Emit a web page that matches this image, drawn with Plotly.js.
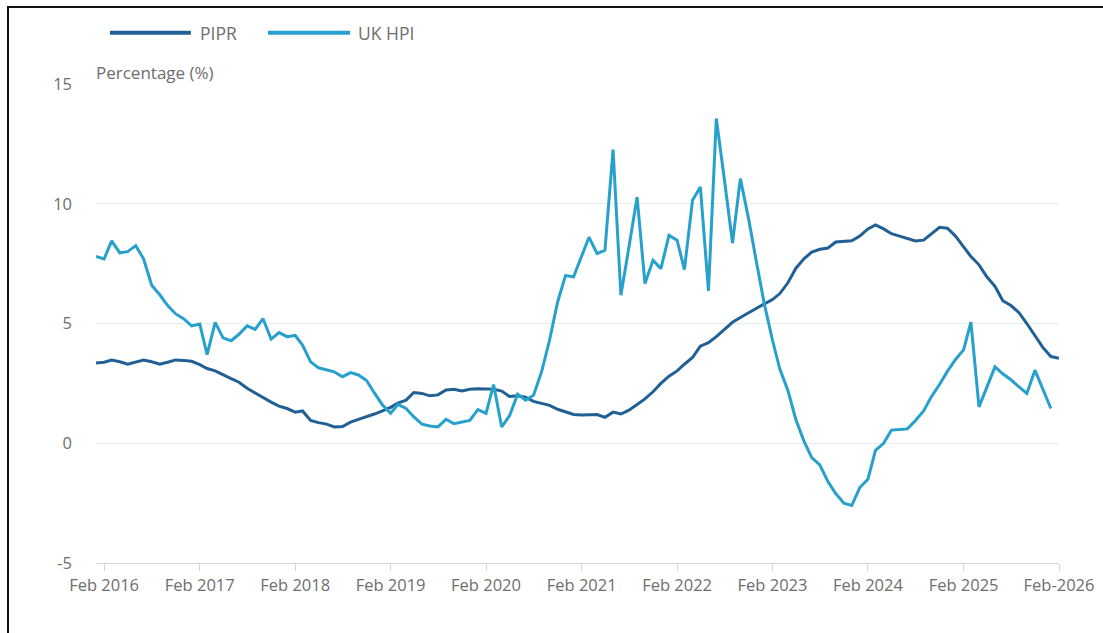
<!DOCTYPE html>
<html>
<head>
<meta charset="utf-8">
<script src="https://cdn.plot.ly/plotly-3.0.1.min.js"></script>
<style>
  html, body { margin: 0; padding: 0; background: #fff; }
  #wrap { position: relative; width: 1103px; height: 633px; overflow: hidden; }
  #chart { width: 1103px; height: 633px; }
  #frame { position: absolute; left: 7px; top: 6px; width: 1200px; height: 700px;
           border-top: 2px solid #111; border-left: 2px solid #111; pointer-events: none; }
</style>
</head>
<body>
<div id="wrap">
  <div id="chart"></div>
  <div id="frame"></div>
</div>
<script>
// Annual growth rates (%), monthly from January 2016
const startYear = 2016;
const startMonth = 1;

const pipr = [
  3.35, 3.38, 3.47, 3.40, 3.30, 3.38, 3.47, 3.40, 3.30, 3.38, 3.48, 3.46,
  3.42, 3.28, 3.12, 3.02, 2.85, 2.70, 2.55, 2.30, 2.10, 1.90, 1.72, 1.55,
  1.45, 1.30, 1.35, 0.95, 0.86, 0.80, 0.68, 0.70, 0.88, 1.00, 1.10, 1.22,
  1.35, 1.50, 1.68, 1.80, 2.12, 2.08, 1.98, 2.02, 2.22, 2.25, 2.18, 2.25,
  2.28, 2.28, 2.26, 2.18, 1.95, 1.98, 1.92, 1.75, 1.65, 1.58, 1.42, 1.30,
  1.20, 1.18, 1.18, 1.20, 1.08, 1.30, 1.22, 1.38, 1.62, 1.85, 2.15, 2.50,
  2.80, 3.02, 3.30, 3.58, 4.05, 4.20, 4.45, 4.75, 5.05, 5.25, 5.45, 5.65,
  5.82, 6.00, 6.25, 6.70, 7.30, 7.70, 7.98, 8.10, 8.15, 8.40, 8.42, 8.45,
  8.65, 8.95, 9.12, 8.95, 8.75, 8.65, 8.55, 8.45, 8.48, 8.75, 9.02, 8.98,
  8.65, 8.20, 7.80, 7.45, 6.95, 6.55, 5.95, 5.75, 5.45, 5.00, 4.50, 4.00,
  3.62, 3.55
];

const ukHpi = [
  7.80, 7.70, 8.45, 7.95, 8.00, 8.25, 7.70, 6.60, 6.20, 5.75, 5.40, 5.20,
  4.90, 4.98, 3.70, 5.05, 4.40, 4.28, 4.55, 4.90, 4.75, 5.20, 4.35, 4.62,
  4.45, 4.50, 4.10, 3.40, 3.15, 3.05, 2.98, 2.78, 2.95, 2.85, 2.62, 2.10,
  1.60, 1.25, 1.62, 1.45, 1.10, 0.80, 0.72, 0.68, 1.00, 0.82, 0.90, 0.95,
  1.40, 1.25, 2.45, 0.68, 1.15, 2.05, 1.80, 2.00, 3.00, 4.30, 5.90, 7.00,
  6.95, 7.80, 8.60, 7.92, 8.06, 12.26, 6.18, 8.20, 10.28, 6.67, 7.64, 7.29,
  8.68, 8.48, 7.25, 10.15, 10.70, 6.36, 13.56, 11.00, 8.36, 11.05, 9.40, 7.60,
  5.80, 4.30, 3.10, 2.20, 1.00, 0.10, -0.60, -0.90, -1.60, -2.10, -2.50, -2.60,
  -1.85, -1.50, -0.30, 0.00, 0.55, 0.57, 0.60, 0.95, 1.35, 1.95, 2.45, 3.00,
  3.50, 3.90, 5.06, 1.52, 2.35, 3.19, 2.90, 2.65, 2.35, 2.08, 3.05, 2.25,
  1.45
];

const tickDates = [
  '2016-02-01', '2017-02-01', '2018-02-01', '2019-02-01', '2020-02-01', '2021-02-01',
  '2022-02-01', '2023-02-01', '2024-02-01', '2025-02-01', '2026-02-01'
];
const tickLabels = [
  'Feb 2016', 'Feb 2017', 'Feb 2018', 'Feb 2019', 'Feb 2020', 'Feb 2021',
  'Feb 2022', 'Feb 2023', 'Feb 2024', 'Feb 2025', 'Feb-2026'
];
const yTickVals = [-5, 0, 5, 10, 15];
const yTickLabels = ['-5', '0', '5', '10', '15'];

const seriesNames = ['PIPR', 'UK HPI'];
const seriesColors = ['#206095', '#27a0cc'];

function monthDates(n) {
  const out = [];
  for (let i = 0; i < n; i++) {
    const k = startMonth - 1 + i;
    const y = startYear + Math.floor(k / 12);
    const m = (k % 12) + 1;
    out.push(y + '-' + String(m).padStart(2, '0') + '-01');
  }
  return out;
}

const font = 'Open Sans, Noto Sans, sans-serif';
const textGrey = '#6e6e6e';

const traces = [pipr, ukHpi].map((vals, i) => ({
  type: 'scatter',
  mode: 'lines',
  name: seriesNames[i],
  x: monthDates(vals.length),
  y: vals,
  line: { color: seriesColors[i], width: 3 },
  showlegend: false,
  hoverinfo: 'x+y+name'
}));

// Hand-drawn legend: long swatch lines above the plot
const legendY = 1.107;
const legendItems = [
  { x0: 0.0145, x1: 0.0985, tx: 0.106 },
  { x0: 0.1786, x1: 0.2638, tx: 0.270 }
];
const shapes = legendItems.map((it, i) => ({
  type: 'line', xref: 'paper', yref: 'paper',
  x0: it.x0, x1: it.x1, y0: legendY, y1: legendY,
  line: { color: seriesColors[i], width: 4 }
}));
const annotations = legendItems.map((it, i) => ({
  xref: 'paper', yref: 'paper', x: it.tx, y: legendY,
  xanchor: 'left', yanchor: 'middle', showarrow: false,
  text: seriesNames[i], font: { family: font, size: 17.5, color: textGrey }
}));
annotations.push({
  xref: 'paper', yref: 'paper', x: -0.002, y: 1.023,
  xanchor: 'left', yanchor: 'middle', showarrow: false,
  text: 'Percentage (%)', font: { family: font, size: 17, color: textGrey }
});

const layout = {
  width: 1103, height: 633,
  margin: { l: 96, r: 44, t: 84, b: 70 },
  paper_bgcolor: '#ffffff', plot_bgcolor: '#ffffff',
  font: { family: font, size: 16.5, color: textGrey },
  showlegend: false,
  xaxis: {
    type: 'date',
    range: ['2016-01-01', '2026-02-01'],
    tickmode: 'array', tickvals: tickDates, ticktext: tickLabels,
    showgrid: false, zeroline: false,
    showline: true, linecolor: '#d6d6d6', linewidth: 1,
    ticks: 'outside', ticklen: 7, tickcolor: '#d6d6d6',
    tickfont: { family: font, size: 16.5, color: textGrey }
  },
  yaxis: {
    range: [-5, 15],
    tickmode: 'array', tickvals: yTickVals, ticktext: yTickLabels,
    showgrid: true, gridcolor: '#ececec', gridwidth: 1,
    zeroline: false, showline: false, ticks: '',
    ticklabelstandoff: 23,
    tickfont: { family: font, size: 16.5, color: textGrey }
  },
  shapes: shapes,
  annotations: annotations
};

Plotly.newPlot('chart', traces, layout, { displayModeBar: false, staticPlot: true });
</script>
</body>
</html>
